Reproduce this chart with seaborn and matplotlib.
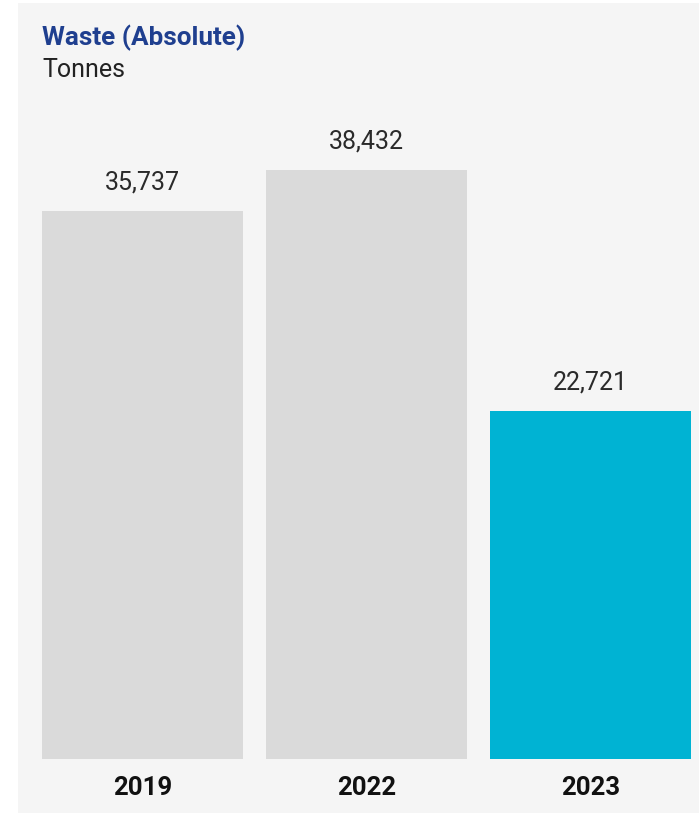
import matplotlib
matplotlib.use("Agg")
import matplotlib.pyplot as plt
from matplotlib.patches import Rectangle
import seaborn as sns
import pandas as pd

years = ["2019", "2022", "2023"]
waste_tonnes = [35737, 38432, 22721]
bar_colors = ["#dadada", "#dadada", "#00b3d3"]

sns.set_theme(style="white")
plt.rcParams["font.family"] = ["Roboto", "DejaVu Sans"]

W, H, DPI = 699, 814, 100
fig = plt.figure(figsize=(W / DPI, H / DPI), dpi=DPI)
fig.patch.set_facecolor("white")

# light card behind the chart
fig.patches.append(Rectangle((18 / W, 1 - 813 / H), (699 - 18) / W, (813 - 3) / H,
                             transform=fig.transFigure, facecolor="#f5f5f5",
                             edgecolor="none", zorder=-5))

# axes placed in pixel coordinates: x 42..691, y 100..759
ax_left, ax_right, ax_top, ax_bottom = 42, 691, 100, 759
ax = fig.add_axes([ax_left / W, 1 - ax_bottom / H, (ax_right - ax_left) / W,
                   (ax_bottom - ax_top) / H])
ax.set_facecolor("none")
ax.set_zorder(2)

df = pd.DataFrame({"year": years, "value": waste_tonnes})
sns.barplot(data=df, x="year", y="value", hue="year", palette=bar_colors,
            width=0.9, legend=False, ax=ax, saturation=1, linewidth=0)

px_per_unit = 15.33 / 1000
ax.set_xlim(-0.45, 2.45)
ax.set_ylim(0, (ax_bottom - ax_top) / px_per_unit)

for i, v in enumerate(waste_tonnes):
    ax.annotate(f"{v:,}", xy=(i, v), xytext=(0, 12), textcoords="offset points",
                ha="center", va="bottom", fontsize=18, fontweight="normal",
                color="#2a2a2a")

ax.set_xlabel("")
ax.set_ylabel("")
ax.set_yticks([])
ax.tick_params(axis="x", length=0, pad=12)
for lbl in ax.get_xticklabels():
    lbl.set_fontsize(18.5)
    lbl.set_fontweight("bold")
    lbl.set_color("#111111")
sns.despine(ax=ax, left=True, bottom=True, top=True, right=True)

fig.text(42 / W, 1 - 38 / H, "Waste (Absolute)", fontsize=18.8, fontweight="bold",
         color="#1f3f8f", ha="left", va="center")
fig.text(42 / W, 1 - 70 / H, "Tonnes", fontsize=18, fontweight="normal",
         color="#222222", ha="left", va="center")

fig.savefig("out.png", dpi=DPI, facecolor=fig.get_facecolor())
